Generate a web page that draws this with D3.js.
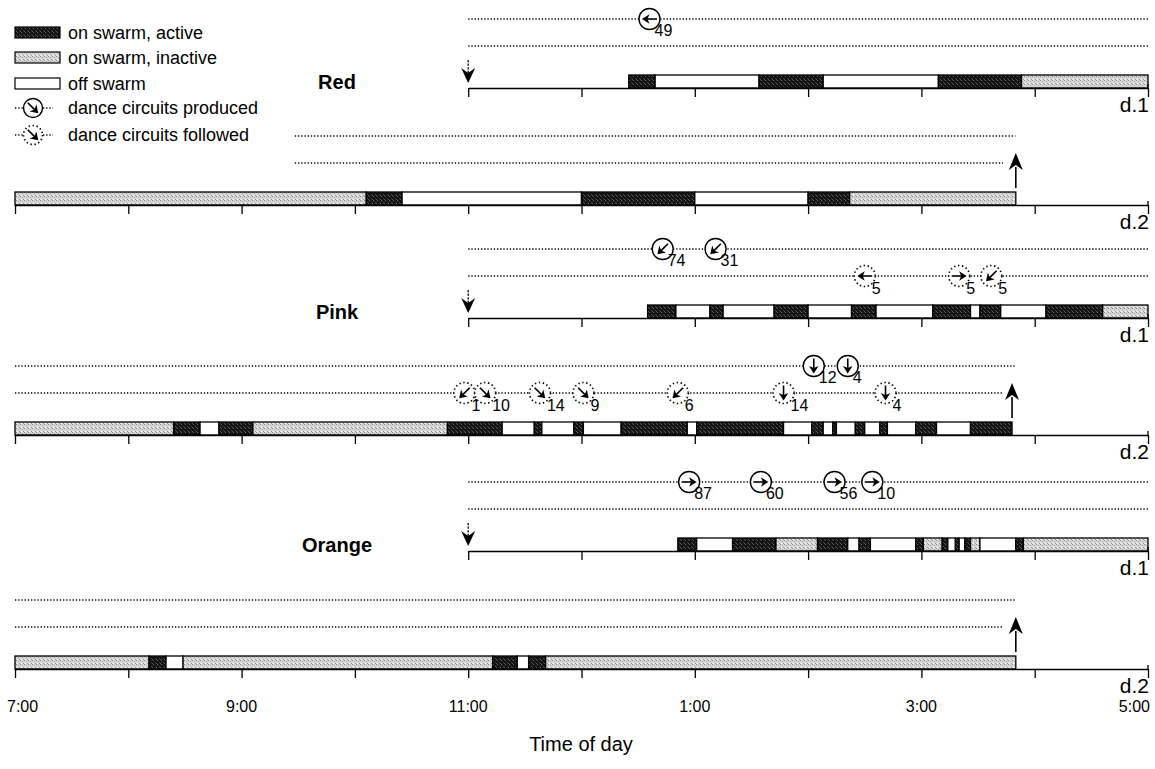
<!DOCTYPE html>
<html>
<head>
<meta charset="utf-8">
<script src="https://cdn.jsdelivr.net/npm/d3@7"></script>
<style>
  html, body { margin: 0; padding: 0; background: #fff; }
  svg { display: block; font-family: "Liberation Sans", Arial, Helvetica, sans-serif; }
</style>
</head>
<body>
<svg id="chart" width="1155" height="769"></svg>
<script>
// bouts: [start, end, state]  A = on swarm active, I = on swarm inactive, O = off swarm
const redD1Bouts = [["12:25","12:39","A"],["12:39","13:34","O"],["13:34","14:08","A"],["14:08","15:09","O"],["15:09","15:53","A"],["15:53","17:00","I"]];
const redD2Bouts = [["7:00","10:06","I"],["10:06","10:25","A"],["10:25","12:00","O"],["12:00","13:00","A"],["13:00","14:00","O"],["14:00","14:22","A"],["14:22","15:50","I"]];
const pinkD1Bouts = [["12:35","12:50","A"],["12:50","13:08","O"],["13:08","13:15","A"],["13:15","13:42","O"],["13:42","14:00","A"],["14:00","14:23","O"],["14:23","14:36","A"],["14:36","15:06","O"],["15:06","15:26","A"],["15:26","15:31","O"],["15:31","15:42","A"],["15:42","16:06","O"],["16:06","16:36","A"],["16:36","17:00","I"]];
const pinkD2Bouts = [["7:00","8:24","I"],["8:24","8:38","A"],["8:38","8:48","O"],["8:48","9:06","A"],["9:06","10:49","I"],["10:49","11:18","A"],["11:18","11:35","O"],["11:35","11:39","A"],["11:39","11:56","O"],["11:56","12:01","A"],["12:01","12:21","O"],["12:21","12:56","A"],["12:56","13:01","O"],["13:01","13:47","A"],["13:47","14:02","O"],["14:02","14:08","A"],["14:08","14:13","O"],["14:13","14:15","A"],["14:15","14:25","O"],["14:25","14:30","A"],["14:30","14:38","O"],["14:38","14:42","A"],["14:42","14:57","O"],["14:57","15:08","A"],["15:08","15:26","O"],["15:26","15:48","A"]];
const orangeD1Bouts = [["12:51","13:01","A"],["13:01","13:20","O"],["13:20","13:43","A"],["13:43","14:05","I"],["14:05","14:21","A"],["14:21","14:27","O"],["14:27","14:33","A"],["14:33","14:57","O"],["14:57","15:01","A"],["15:01","15:11","I"],["15:11","15:14","A"],["15:14","15:18","O"],["15:18","15:20","A"],["15:20","15:23","O"],["15:23","15:26","A"],["15:26","15:31","I"],["15:31","15:50","O"],["15:50","15:54","A"],["15:54","17:00","I"]];
const orangeD2Bouts = [["7:00","8:11","I"],["8:11","8:20","A"],["8:20","8:29","O"],["8:29","11:13","I"],["11:13","11:26","A"],["11:26","11:32","O"],["11:32","11:41","A"],["11:41","15:50","I"]];

// dances: time, arrow direction (deg, 0 = right, 90 = down), circuits
const redD1Produced = [["12:36",180,49]];
const pinkD1Produced = [["12:43",135,74],["13:11",135,31]];
const pinkD1Followed = [["14:30",180,5],["15:20",0,5],["15:37",135,5]];
const pinkD2Produced = [["14:03",90,12],["14:21",90,4]];
const pinkD2Followed = [["10:58",135,1],["11:09",45,10],["11:38",45,14],["12:01",45,9],["12:51",135,6],["13:47",90,14],["14:41",90,4]];
const orangeD1Produced = [["12:57",0,87],["13:35",0,60],["14:14",0,56],["14:34",0,10]];

const beeNames = ["Red","Pink","Orange"];
const dayLabels = ["d.1","d.2"];
const hourLabels = ["7:00","9:00","11:00","1:00","3:00","5:00"];
const hourLabelValues = [7,9,11,13,15,17];
const legendLabels = ["on swarm, active","on swarm, inactive","off swarm","dance circuits produced","dance circuits followed"];

const hr = s => { const [h,m] = s.split(":").map(Number); return h + m/60; };

const svg = d3.select("#chart");
const x = d3.scaleLinear().domain([7,17]).range([15,1148]);

// speckle patterns
const defs = svg.append("defs");
const pa = defs.append("pattern").attr("id","pA").attr("width",4).attr("height",4).attr("patternUnits","userSpaceOnUse");
pa.append("rect").attr("width",4).attr("height",4).attr("fill","#141414");
[[1,0,"#666"],[3,2,"#474747"],[0,3,"#585858"]].forEach(d=>pa.append("rect").attr("x",d[0]).attr("y",d[1]).attr("width",1).attr("height",1).attr("fill",d[2]));
const pi = defs.append("pattern").attr("id","pI").attr("width",4).attr("height",4).attr("patternUnits","userSpaceOnUse");
pi.append("rect").attr("width",4).attr("height",4).attr("fill","#d8d8d8");
[[0,0,"#888"],[2,1,"#a4a4a4"],[1,3,"#ffffff"],[3,3,"#969696"]].forEach(d=>pi.append("rect").attr("x",d[0]).attr("y",d[1]).attr("width",1).attr("height",1).attr("fill",d[2]));
const fillOf = {A:"url(#pA)", I:"url(#pI)", O:"#fff"};

const barH = 13;

const rows = [
  {bee:0, day:0, y:88,  from:11, line:[11,17],     lineF:[11,17],     arrow:"down", bouts:redD1Bouts,    prod:redD1Produced,    foll:[]},
  {bee:0, day:1, y:205, from:7,  line:[9.47,15.83], lineF:[9.47,15.72], arrow:"up", bouts:redD2Bouts,    prod:[],               foll:[]},
  {bee:1, day:0, y:318, from:11, line:[11,17],     lineF:[11,17],     arrow:"down", bouts:pinkD1Bouts,   prod:pinkD1Produced,   foll:pinkD1Followed},
  {bee:1, day:1, y:435, from:7,  line:[7,15.83],   lineF:[7,15.72],   arrow:"up",   bouts:pinkD2Bouts,   prod:pinkD2Produced,   foll:pinkD2Followed},
  {bee:2, day:0, y:551, from:11, line:[11,17],     lineF:[11,17],     arrow:"down", bouts:orangeD1Bouts, prod:orangeD1Produced, foll:[]},
  {bee:2, day:1, y:669, from:7,  line:[7,15.83],   lineF:[7,15.72],   arrow:"up",   bouts:orangeD2Bouts, prod:[],               foll:[]}
];

function dotted(g, x1, x2, y) {
  g.append("line").attr("x1",x1).attr("x2",x2).attr("y1",y).attr("y2",y)
    .attr("stroke","#000").attr("stroke-width",1.4).attr("stroke-dasharray","1.3,1.9");
}

function arrowIn(s, rot) {
  const a = s.append("g").attr("transform", rot);
  a.append("line").attr("x1",-7.5).attr("x2",3).attr("stroke","#000").attr("stroke-width",1.6);
  a.append("path").attr("d","M7.5,0L0,-4.8L2,0L0,4.8Z").attr("fill","#000");
}

function dance(g, data, y, followed) {
  const s = g.selectAll(null).data(data).join("g")
    .attr("transform", d => `translate(${x(hr(d[0]))},${y})`);
  s.append("circle").attr("r",10.5).attr("fill","#fff").attr("stroke","#000")
    .attr("stroke-width", followed ? 1.7 : 1.4)
    .attr("stroke-dasharray", followed ? "1.4,2.6" : null);
  s.each(function(d){ arrowIn(d3.select(this), `rotate(${d[1]})`); });
  s.append("text").attr("x", followed ? 7 : 5).attr("y", followed ? 18 : 17)
    .attr("font-size",16).text(d => d[2]);
}

rows.forEach(r => {
  const g = svg.append("g");
  const yP = r.y - 69, yF = r.y - 42;
  dotted(g, x(r.line[0]), x(r.line[1]), yP);
  dotted(g, x(r.lineF[0]), x(r.lineF[1]), yF);

  // bouts
  g.selectAll("rect.bout").data(r.bouts).join("rect").attr("class","bout")
    .attr("x", d => x(hr(d[0]))).attr("width", d => x(hr(d[1])) - x(hr(d[0])))
    .attr("y", r.y - barH).attr("height", barH)
    .attr("fill", d => fillOf[d[2]]).attr("stroke","#000").attr("stroke-width",1.3);

  // axis
  const xs = x.copy().domain([r.from,17]).range([x(r.from), x(17)]);
  const ax = g.append("g").attr("transform",`translate(0,${r.y})`)
    .call(d3.axisBottom(xs).tickValues(d3.range(r.from,18)).tickSize(9).tickSizeOuter(0).tickFormat(""));
  ax.select(".domain").attr("stroke-width",1.7);
  ax.selectAll(".tick line").attr("stroke-width",1.3);
  g.append("line").attr("x1",x(17)).attr("x2",x(17)).attr("y1",r.y-4).attr("y2",r.y).attr("stroke","#000").attr("stroke-width",1.3);

  // arrival / departure arrows
  if (r.arrow === "down") {
    const ax0 = x(11);
    g.append("line").attr("x1",ax0).attr("x2",ax0).attr("y1",r.y-28).attr("y2",r.y-14)
      .attr("stroke","#000").attr("stroke-width",1.3).attr("stroke-dasharray","2.2,1.4");
    g.append("path").attr("d",`M${ax0},${r.y-5}L${ax0-7},${r.y-20}L${ax0},${r.y-15}L${ax0+7},${r.y-20}Z`).attr("fill","#000");
  } else {
    const ax1 = x(hr(r.bouts[r.bouts.length-1][1]));
    g.append("line").attr("x1",ax1).attr("x2",ax1).attr("y1",r.y-17).attr("y2",r.y-38)
      .attr("stroke","#000").attr("stroke-width",1.6);
    g.append("path").attr("d",`M${ax1},${r.y-52}L${ax1-7},${r.y-35}L${ax1},${r.y-40}L${ax1+7},${r.y-35}Z`).attr("fill","#000");
  }

  dance(g, r.prod, yP, false);
  dance(g, r.foll, yF, true);

  g.append("text").attr("x",1149).attr("y",r.y+24).attr("text-anchor","end")
    .attr("font-size",21).text(dayLabels[r.day]);
  if (r.day === 0) {
    g.append("text").attr("x",337).attr("y",r.y+1).attr("text-anchor","middle")
      .attr("font-size",20).attr("font-weight","bold").text(beeNames[r.bee]);
  }
});

// hour labels
svg.selectAll("text.hour").data(hourLabelValues).join("text").attr("class","hour")
  .attr("x", (d,i) => i === 0 ? x(d) - 8 : i === hourLabelValues.length-1 ? x(d) + 2 : x(d))
  .attr("y", 712)
  .attr("text-anchor", (d,i) => i === 0 ? "start" : i === hourLabelValues.length-1 ? "end" : "middle")
  .attr("font-size",16).text((d,i) => hourLabels[i]);
svg.append("text").attr("x",581).attr("y",751).attr("text-anchor","middle")
  .attr("font-size",20).text("Time of day");

// legend
const lg = svg.append("g");
const ly = [33, 58, 84, 108, 135];
["A","I","O"].forEach((k,i) => {
  lg.append("rect").attr("x",15).attr("y",ly[i]-6).attr("width",45).attr("height",11)
    .attr("fill",fillOf[k]).attr("stroke","#000").attr("stroke-width",1.2);
});
[[45,false],[45,true]].forEach((d,i) => {
  const yy = ly[3+i];
  lg.append("line").attr("x1",15).attr("x2",23).attr("y1",yy).attr("y2",yy)
    .attr("stroke","#000").attr("stroke-width",1.4).attr("stroke-dasharray","1.3,1.9");
  lg.append("line").attr("x1",43).attr("x2",53).attr("y1",yy).attr("y2",yy)
    .attr("stroke","#000").attr("stroke-width",1.4).attr("stroke-dasharray","1.3,1.9");
  const s = lg.append("g").attr("transform",`translate(33,${yy})`);
  s.append("circle").attr("r",9.5).attr("fill","#fff").attr("stroke","#000")
    .attr("stroke-width", d[1] ? 1.7 : 1.4).attr("stroke-dasharray", d[1] ? "1.4,2.6" : null);
  arrowIn(s, `rotate(${d[0]})`);
});
lg.selectAll("text").data(legendLabels).join("text")
  .attr("x",68).attr("y",(d,i) => ly[i] + 6).attr("font-size",18).text(d => d);
</script>
</body>
</html>
